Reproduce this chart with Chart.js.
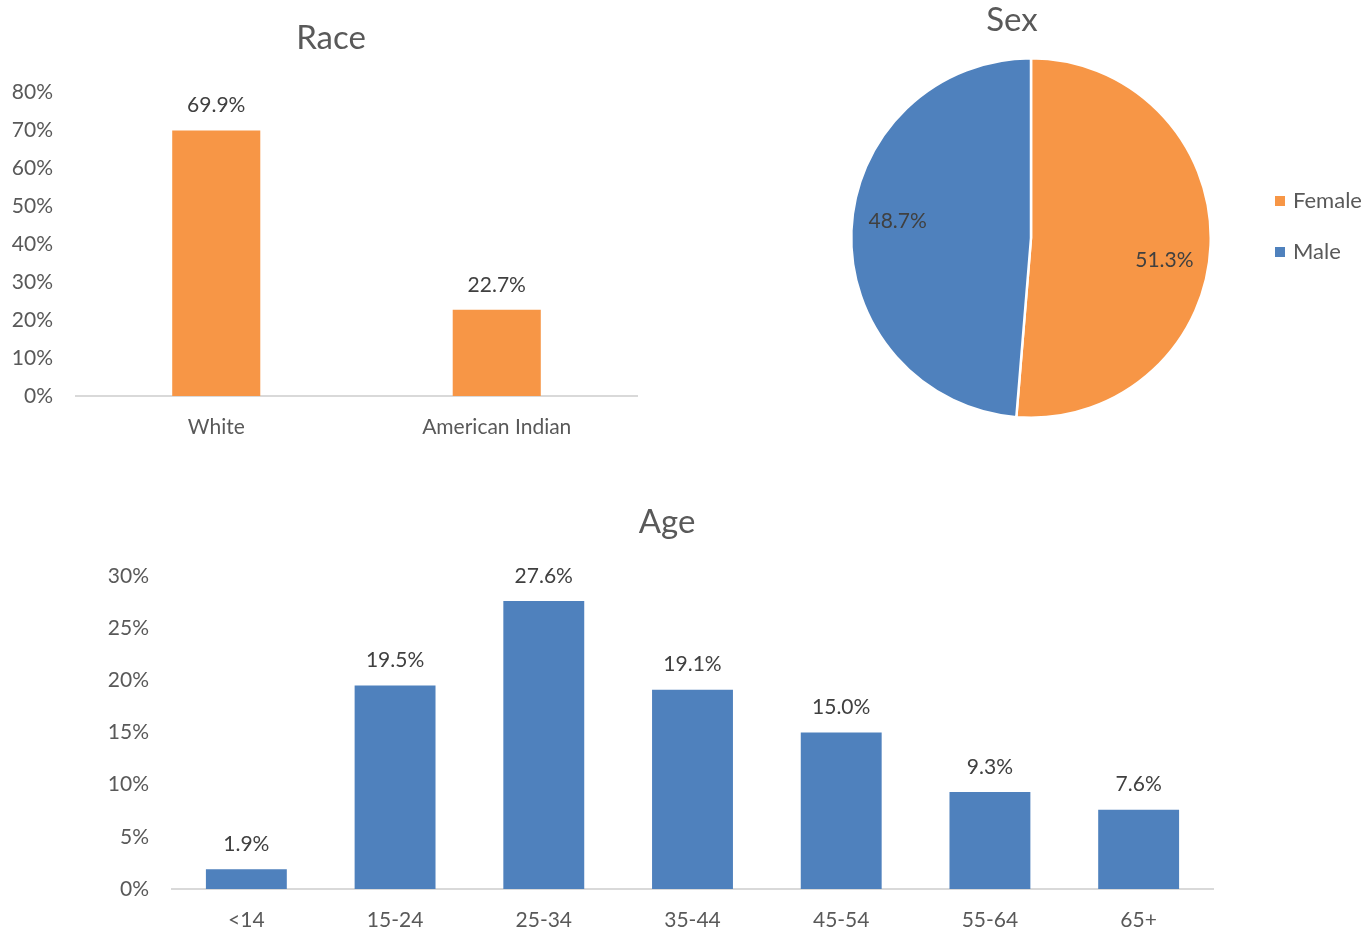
<!DOCTYPE html>
<html><head><meta charset="utf-8">
<script src="https://cdn.jsdelivr.net/npm/chart.js@4/dist/chart.umd.min.js"></script>
<style>
html,body{margin:0;padding:0;background:#fff;width:1372px;height:933px;overflow:hidden}
.box{position:absolute}
</style></head><body>
<div class="box" style="left:0;top:0;width:660px;height:450px"><canvas id="race"></canvas></div>
<div class="box" style="left:830px;top:0;width:542px;height:430px"><canvas id="sex"></canvas></div>
<div class="box" style="left:0;top:470px;width:1372px;height:463px"><canvas id="age"></canvas></div>
<script>
// ---- data ----
const raceCategories = ['White', 'American Indian'];
const raceValues = [69.9, 22.7];
const raceTicks = [0, 10, 20, 30, 40, 50, 60, 70, 80];

const sexCategories = ['Female', 'Male'];
const sexValues = [51.3, 48.7];

const ageCategories = ['<14', '15-24', '25-34', '35-44', '45-54', '55-64', '65+'];
const ageValues = [1.9, 19.5, 27.6, 19.1, 15.0, 9.3, 7.6];
const ageTicks = [0, 5, 10, 15, 20, 25, 30];

// ---- style ----
const FONT = 'Lato, "Open Sans", sans-serif';
const ORANGE = '#F79646';
const BLUE = '#4F81BD';
const AXIS_TXT = '#595959';
const LABEL_TXT = '#404040';

// chart title drawn at a fixed spot of its canvas
const chartTitle = {
  id: 'chartTitle',
  afterDraw(chart, args, o) {
    if (!o.text) return;
    const ctx = chart.ctx;
    ctx.save();
    ctx.font = '33px ' + FONT;
    ctx.fillStyle = AXIS_TXT;
    ctx.textAlign = 'center';
    ctx.textBaseline = 'middle';
    ctx.fillText(o.text, o.x, o.y);
    ctx.restore();
  }
};

const valueLabels = {
  id: 'valueLabels',
  afterDatasetsDraw(chart) {
    const ctx = chart.ctx;
    const meta = chart.getDatasetMeta(0);
    const vals = chart.data.datasets[0].data;
    ctx.save();
    ctx.font = '21px ' + FONT;
    ctx.fillStyle = LABEL_TXT;
    ctx.textAlign = 'center';
    ctx.textBaseline = 'middle';
    meta.data.forEach((bar, i) => {
      ctx.fillText(vals[i].toFixed(1) + '%', bar.x, bar.y - 25);
    });
    ctx.restore();
  }
};

function barChart(id, labels, values, ticks, color, o) {
  return new Chart(document.getElementById(id), {
    type: 'bar',
    data: { labels: labels, datasets: [{ data: values, backgroundColor: color, barPercentage: o.barPct, categoryPercentage: 1 }] },
    options: {
      responsive: true, maintainAspectRatio: false, animation: false,
      layout: { padding: o.padding },
      plugins: {
        legend: { display: false }, tooltip: { enabled: false }, title: { display: false },
        chartTitle: o.title
      },
      scales: {
        x: {
          grid: { display: false, drawTicks: false },
          border: { display: true, color: '#d9d9d9', width: 2 },
          ticks: { color: AXIS_TXT, font: { family: FONT, size: 21, lineHeight: 1.2 }, padding: 19, maxRotation: 0 },
          afterFit(s) { s.height = 44; }
        },
        y: {
          min: 0, max: ticks[ticks.length - 1],
          grid: { display: false, drawTicks: false },
          border: { display: false },
          ticks: { color: AXIS_TXT, font: { family: FONT, size: 21 }, padding: 23, callback: v => v + '%' },
          afterBuildTicks(s) { s.ticks = ticks.map(v => ({ value: v })); },
          afterFit(s) { s.width = o.yW; }
        }
      }
    },
    plugins: [valueLabels, chartTitle]
  });
}

barChart('race', raceCategories, raceValues, raceTicks, ORANGE, {
  barPct: 0.314, yW: 76,
  title: { text: 'Race', x: 331, y: 38 },
  padding: { left: 0, right: 23, top: 92, bottom: 10 }
});

barChart('age', ageCategories, ageValues, ageTicks, BLUE, {
  barPct: 0.544, yW: 172,
  title: { text: 'Age', x: 667, y: 52 },
  padding: { left: 0, right: 159, top: 106, bottom: 0 }
});

// ---- pie ----
const pieDecor = {
  id: 'pieDecor',
  afterDatasetsDraw(chart, args, o) {
    const ctx = chart.ctx;
    const meta = chart.getDatasetMeta(0);
    const ds = chart.data.datasets[0];
    ctx.save();
    ctx.font = '21px ' + FONT;
    ctx.fillStyle = LABEL_TXT;
    ctx.textAlign = 'center';
    ctx.textBaseline = 'middle';
    meta.data.forEach((arc, i) => {
      const mid = (arc.startAngle + arc.endAngle) / 2 + o.labelShift;
      const r = arc.outerRadius * 0.75;
      ctx.fillText(ds.data[i].toFixed(1) + '%', arc.x + Math.cos(mid) * r, arc.y + Math.sin(mid) * r + 3);
    });
    // legend
    const ca = chart.chartArea;
    ctx.font = '22px ' + FONT;
    ctx.textAlign = 'left';
    chart.data.labels.forEach((lab, i) => {
      const y = o.legendY + i * o.legendGap;
      const x = ca.right + o.legendX;
      ctx.fillStyle = ds.backgroundColor[i];
      ctx.fillRect(x, y - 5, 10, 10);
      ctx.fillStyle = AXIS_TXT;
      ctx.fillText(lab, x + 18, y);
    });
    ctx.restore();
  }
};

new Chart(document.getElementById('sex'), {
  type: 'pie',
  data: { labels: sexCategories, datasets: [{ data: sexValues, backgroundColor: [ORANGE, BLUE], borderColor: '#ffffff', borderWidth: 2.5 }] },
  options: {
    responsive: true, maintainAspectRatio: false, animation: false,
    layout: { padding: { left: 20, right: 160, top: 57, bottom: 11 } },
    plugins: {
      legend: { display: false }, tooltip: { enabled: false }, title: { display: false },
      chartTitle: { text: 'Sex', x: 182, y: 20 },
      pieDecor: { labelShift: 6 * Math.PI / 180, legendX: 63, legendY: 201, legendGap: 51 }
    }
  },
  plugins: [pieDecor, chartTitle]
});
</script>
</body></html>
